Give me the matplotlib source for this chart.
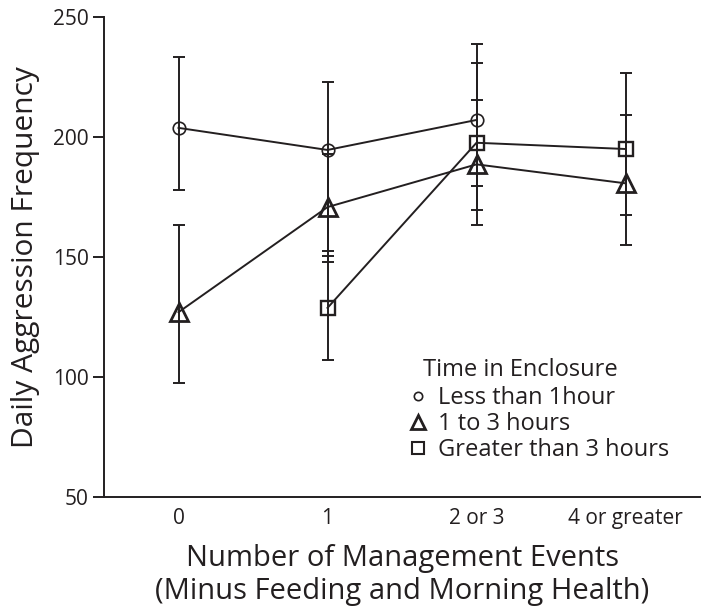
import matplotlib
matplotlib.use("Agg")
import matplotlib.pyplot as plt
import numpy as np

plt.rcParams['font.family'] = ['Open Sans', 'DejaVu Sans']

categories = ["0", "1", "2 or 3", "4 or greater"]
series_names = ["Less than 1hour", "1 to 3 hours", "Greater than 3 hours"]
legend_title = "Time in Enclosure"

# x index, mean, lower cap, upper cap
less1_x = [0, 1, 2]
less1_mean = [203.8, 194.6, 207.1]
less1_low = [177.9, 152.5, 179.6]
less1_high = [233.3, 223.0, 238.6]

one3_x = [0, 1, 2, 3]
one3_mean = [127.0, 170.8, 188.6, 180.7]
one3_low = [97.6, 148.0, 169.5, 154.9]
one3_high = [163.3, 193.0, 215.4, 209.3]

gt3_x = [1, 2, 3]
gt3_mean = [128.8, 197.6, 195.0]
gt3_low = [107.0, 163.3, 167.6]
gt3_high = [150.5, 230.7, 226.5]

yticks = [50, 100, 150, 200, 250]

fig = plt.figure(figsize=(7.01, 6.14), dpi=100)
ax = fig.add_axes([104/701, (614-497)/614, (700-104)/701, (497-17)/614])

col = "#231f20"
specs = [
    (less1_x, less1_mean, less1_low, less1_high, "o", 9, 1.2, 6, 1.2),
    (one3_x, one3_mean, one3_low, one3_high, "^", 12.5, 2.0, 10, 2.0),
    (gt3_x, gt3_mean, gt3_low, gt3_high, "s", 10.5, 1.7, 8.5, 1.5),
]
handles = []
for (xs, m, lo, hi, mk, ms, mew, lms, lmew), name in zip(specs, series_names):
    m = np.array(m); lo = np.array(lo); hi = np.array(hi)
    ax.errorbar(xs, m, yerr=[m - lo, hi - m], fmt="none", ecolor=col,
                elinewidth=1.4, capsize=4.5, capthick=1.4, zorder=2)
    ax.plot(xs, m, color=col, lw=1.4, zorder=3)
    ax.plot(xs, m, linestyle="none", marker=mk, ms=ms, mfc="none",
            mec=col, mew=mew, zorder=4)
    h, = ax.plot([], [], linestyle="none", marker=mk, ms=lms, mfc="none",
                 mec=col, mew=lmew, label=name)
    handles.append(h)

ax.set_xlim(-0.5, 3.5)
ax.set_ylim(50, 250)
ax.set_yticks(yticks)
ax.set_yticklabels([str(v) for v in yticks])
ax.set_xticks(range(len(categories)))
ax.set_xticklabels(categories)
ax.tick_params(axis='x', length=0, pad=8, labelsize=15, colors=col)
ax.tick_params(axis='y', length=8, width=1.4, pad=3, labelsize=15, colors=col)
for s in ["top", "right"]:
    ax.spines[s].set_visible(False)
for s in ["left", "bottom"]:
    ax.spines[s].set_linewidth(1.4)
    ax.spines[s].set_color(col)

ax.set_ylabel("Daily Aggression Frequency", fontsize=21.5, color=col, labelpad=9)
ax.set_xlabel("Number of Management Events\n(Minus Feeding and Morning Health)",
              fontsize=21, color=col, labelpad=11, linespacing=1.15)

ax.text(0.535, 0.265, legend_title, transform=ax.transAxes, fontsize=17,
        color=col, ha="left", va="center")
leg = ax.legend(handles=handles, frameon=False,
                fontsize=17, loc="upper left",
                bbox_to_anchor=(0.513, 0.231), handlelength=0.7, handletextpad=0.5,
                labelspacing=0.08, borderaxespad=0, borderpad=0)
for t in leg.get_texts():
    t.set_color(col)

fig.savefig("out.png", dpi=100)
